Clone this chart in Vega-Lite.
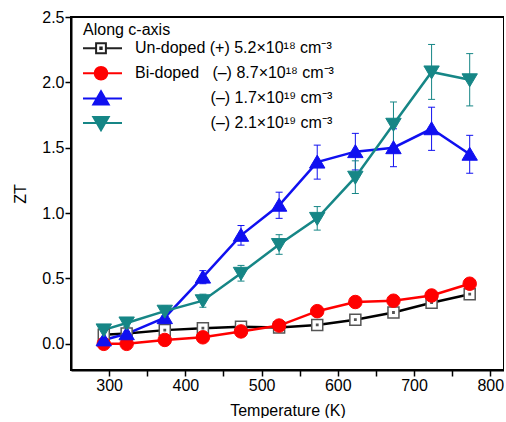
{
  "$schema": "https://vega.github.io/schema/vega-lite/v6.json",
  "width": 433,
  "height": 353,
  "padding": {"left": 12, "top": 9, "right": 0, "bottom": 0},
  "background": "white",
  "config": {
    "font": "Liberation Sans",
    "view": {"stroke": "#000", "strokeWidth": 2},
    "axis": {
      "domain": true, "domainColor": "#000", "domainWidth": 2,
      "ticks": true, "tickColor": "#000", "tickWidth": 1.5, "tickSize": 6,
      "labelFont": "Liberation Sans", "labelFontSize": 16, "labelColor": "#000",
      "titleFont": "Liberation Sans", "titleFontSize": 16, "titleFontWeight": "normal", "titleColor": "#000",
      "grid": false
    },
    "legend": {
      "padding": 0,
      "titleFont": "Liberation Sans", "titleFontSize": 16, "titleFontWeight": "normal", "titleColor": "#000",
      "labelFont": "Liberation Sans", "labelFontSize": 16, "labelColor": "#000",
      "symbolStrokeWidth": 2, "labelLimit": 400
    }
  },
  "datasets": {
    "d": [
      {"g": "U", "T": 293, "ZT": 0.07, "lo": 0.05, "hi": 0.09},
      {"g": "U", "T": 323, "ZT": 0.08, "lo": 0.06, "hi": 0.1},
      {"g": "U", "T": 373, "ZT": 0.105, "lo": 0.075, "hi": 0.135},
      {"g": "U", "T": 423, "ZT": 0.12, "lo": 0.09, "hi": 0.15},
      {"g": "U", "T": 473, "ZT": 0.13, "lo": 0.11, "hi": 0.15},
      {"g": "U", "T": 523, "ZT": 0.125, "lo": 0.105, "hi": 0.145},
      {"g": "U", "T": 573, "ZT": 0.145, "lo": 0.115, "hi": 0.175},
      {"g": "U", "T": 623, "ZT": 0.185, "lo": 0.155, "hi": 0.215},
      {"g": "U", "T": 673, "ZT": 0.24, "lo": 0.21, "hi": 0.27},
      {"g": "U", "T": 723, "ZT": 0.315, "lo": 0.295, "hi": 0.335},
      {"g": "U", "T": 773, "ZT": 0.38, "lo": 0.36, "hi": 0.4},
      {"g": "R", "T": 293, "ZT": 0.0, "lo": -0.02, "hi": 0.02},
      {"g": "R", "T": 323, "ZT": 0.0, "lo": -0.02, "hi": 0.02},
      {"g": "R", "T": 373, "ZT": 0.03, "lo": 0.01, "hi": 0.05},
      {"g": "R", "T": 423, "ZT": 0.05, "lo": 0.03, "hi": 0.07},
      {"g": "R", "T": 473, "ZT": 0.095, "lo": 0.075, "hi": 0.115},
      {"g": "R", "T": 523, "ZT": 0.14, "lo": 0.12, "hi": 0.16},
      {"g": "R", "T": 573, "ZT": 0.25, "lo": 0.23, "hi": 0.27},
      {"g": "R", "T": 623, "ZT": 0.32, "lo": 0.3, "hi": 0.34},
      {"g": "R", "T": 673, "ZT": 0.33, "lo": 0.31, "hi": 0.35},
      {"g": "R", "T": 723, "ZT": 0.37, "lo": 0.35, "hi": 0.39},
      {"g": "R", "T": 773, "ZT": 0.46, "lo": 0.44, "hi": 0.48},
      {"g": "B", "T": 293, "ZT": 0.03, "lo": 0.0, "hi": 0.06},
      {"g": "B", "T": 323, "ZT": 0.077, "lo": 0.04, "hi": 0.115},
      {"g": "B", "T": 373, "ZT": 0.2, "lo": 0.15, "hi": 0.25},
      {"g": "B", "T": 423, "ZT": 0.51, "lo": 0.46, "hi": 0.56},
      {"g": "B", "T": 473, "ZT": 0.83, "lo": 0.755, "hi": 0.905},
      {"g": "B", "T": 523, "ZT": 1.06, "lo": 0.96, "hi": 1.16},
      {"g": "B", "T": 573, "ZT": 1.39, "lo": 1.26, "hi": 1.52},
      {"g": "B", "T": 623, "ZT": 1.47, "lo": 1.33, "hi": 1.61},
      {"g": "B", "T": 673, "ZT": 1.5, "lo": 1.355, "hi": 1.645},
      {"g": "B", "T": 723, "ZT": 1.645, "lo": 1.48, "hi": 1.81},
      {"g": "B", "T": 773, "ZT": 1.45, "lo": 1.305, "hi": 1.595},
      {"g": "G", "T": 293, "ZT": 0.107, "lo": 0.077, "hi": 0.137},
      {"g": "G", "T": 323, "ZT": 0.16, "lo": 0.13, "hi": 0.19},
      {"g": "G", "T": 373, "ZT": 0.25, "lo": 0.21, "hi": 0.29},
      {"g": "G", "T": 423, "ZT": 0.33, "lo": 0.28, "hi": 0.38},
      {"g": "G", "T": 473, "ZT": 0.54, "lo": 0.48, "hi": 0.6},
      {"g": "G", "T": 523, "ZT": 0.76, "lo": 0.685, "hi": 0.835},
      {"g": "G", "T": 573, "ZT": 0.96, "lo": 0.87, "hi": 1.05},
      {"g": "G", "T": 623, "ZT": 1.275, "lo": 1.15, "hi": 1.4},
      {"g": "G", "T": 673, "ZT": 1.68, "lo": 1.51, "hi": 1.85},
      {"g": "G", "T": 723, "ZT": 2.08, "lo": 1.87, "hi": 2.29},
      {"g": "G", "T": 773, "ZT": 2.02, "lo": 1.82, "hi": 2.22}
    ]
  },
  "data": {"name": "d"},
  "encoding": {
    "x": {
      "field": "T", "type": "quantitative", "title": "Temperature (K)",
      "scale": {"domain": [250, 818], "nice": false, "zero": false},
      "axis": {
        "values": [300, 350, 400, 450, 500, 550, 600, 650, 700, 750, 800],
        "labelExpr": "datum.value % 100 === 0 ? datum.label : ''",
        "format": "d",
        "labelPadding": 1, "titlePadding": 9
      }
    }
  },
  "layer": [
    {
      "mark": {"type": "rule", "strokeWidth": 1},
      "encoding": {
        "y": {
          "field": "lo", "type": "quantitative", "title": "ZT",
          "scale": {"domain": [-0.2, 2.5], "nice": false, "zero": false},
          "axis": {
            "values": [0, 0.25, 0.5, 0.75, 1, 1.25, 1.5, 1.75, 2, 2.25, 2.5],
            "labelExpr": "(datum.value * 4) % 2 === 0 ? format(datum.value, '.1f') : ''",
            "labelPadding": 1, "titlePadding": 13
          }
        },
        "y2": {"field": "hi"},
        "color": {"field": "g", "type": "nominal", "legend": null,
          "scale": {"range": ["#1010f0", "#168686", "#ff0000", "#000000"]}}
      }
    },
    {
      "mark": {"type": "tick", "orient": "horizontal", "size": 7, "thickness": 1, "opacity": 1},
      "encoding": {
        "y": {"field": "hi", "type": "quantitative", "title": "ZT"},
        "color": {"field": "g", "type": "nominal", "legend": null}
      }
    },
    {
      "mark": {"type": "tick", "orient": "horizontal", "size": 7, "thickness": 1, "opacity": 1},
      "encoding": {
        "y": {"field": "lo", "type": "quantitative", "title": "ZT"},
        "color": {"field": "g", "type": "nominal", "legend": null}
      }
    },
    {
      "mark": {"type": "line", "strokeWidth": 2.5},
      "encoding": {
        "y": {"field": "ZT", "type": "quantitative", "title": "ZT"},
        "color": {"field": "g", "type": "nominal", "legend": null},
        "order": {"field": "T"}
      }
    },
    {
      "transform": [{"filter": "datum.T < 0"}],
      "mark": {"type": "point", "size": 196, "opacity": 1, "strokeWidth": 2},
      "encoding": {
        "y": {"field": "ZT", "type": "quantitative", "title": "ZT"},
        "shape": {
          "field": "g", "type": "nominal", "title": "Along c-axis",
          "scale": {"domain": ["U", "R", "B", "G"], "range": [
            "M-3,0H-0.7M0.7,0H3M-0.7,-0.7H0.7V0.7H-0.7ZM-0.1,-0.1H0.1V0.1H-0.1Z",
            "M-3,0H-0.9M0.9,0H3M0.9,0L0.831,0.344L0.636,0.636L0.344,0.831L0,0.9L-0.344,0.831L-0.636,0.636L-0.831,0.344L-0.9,0L-0.831,-0.344L-0.636,-0.636L-0.344,-0.831L0,-0.9L0.344,-0.831L0.636,-0.636L0.831,-0.344Z",
            "M-3,0.05H3M0,-1L1.1,0.9H-1.1Z",
            "M-3,-0.05H3M0,1L1.1,-0.9H-1.1Z"
          ]},
          "legend": {
            "orient": "none", "legendX": 12, "legendY": 5, "direction": "vertical",
            "symbolSize": 196, "symbolOffset": 10, "labelOffset": 26, "clipHeight": 24.5, "rowPadding": 0, "titlePadding": -2,
            "labelExpr": "datum.label === 'U' ? 'Un-doped (+) 5.2×10¹⁸ cm⁻³' : datum.label === 'R' ? 'Bi-doped\u00a0\u00a0\u00a0(–) 8.7×10¹⁸ cm⁻³' : datum.label === 'B' ? '\u200b\u00a0\u00a0\u00a0\u00a0\u00a0\u00a0\u00a0\u00a0\u00a0\u00a0\u00a0\u00a0\u00a0\u00a0\u00a0\u00a0\u00a0(–) 1.7×10¹⁹ cm⁻³' : '\u200b\u00a0\u00a0\u00a0\u00a0\u00a0\u00a0\u00a0\u00a0\u00a0\u00a0\u00a0\u00a0\u00a0\u00a0\u00a0\u00a0\u00a0(–) 2.1×10¹⁹ cm⁻³'"
          }
        },
        "fill": {
          "field": "g", "type": "nominal", "title": "Along c-axis",
          "scale": {"domain": ["U", "R", "B", "G"], "range": ["#ffffff", "#ff0000", "#1010f0", "#168686"]},
          "legend": {
            "orient": "none", "legendX": 12, "legendY": 5, "direction": "vertical",
            "symbolSize": 196, "symbolOffset": 10, "labelOffset": 26, "clipHeight": 24.5, "rowPadding": 0, "titlePadding": -2,
            "labelExpr": "datum.label === 'U' ? 'Un-doped (+) 5.2×10¹⁸ cm⁻³' : datum.label === 'R' ? 'Bi-doped\u00a0\u00a0\u00a0(–) 8.7×10¹⁸ cm⁻³' : datum.label === 'B' ? '\u200b\u00a0\u00a0\u00a0\u00a0\u00a0\u00a0\u00a0\u00a0\u00a0\u00a0\u00a0\u00a0\u00a0\u00a0\u00a0\u00a0\u00a0(–) 1.7×10¹⁹ cm⁻³' : '\u200b\u00a0\u00a0\u00a0\u00a0\u00a0\u00a0\u00a0\u00a0\u00a0\u00a0\u00a0\u00a0\u00a0\u00a0\u00a0\u00a0\u00a0(–) 2.1×10¹⁹ cm⁻³'"
          }
        },
        "stroke": {
          "field": "g", "type": "nominal", "title": "Along c-axis",
          "scale": {"domain": ["U", "R", "B", "G"], "range": ["#222222", "#ff0000", "#1010f0", "#168686"]},
          "legend": {
            "orient": "none", "legendX": 12, "legendY": 5, "direction": "vertical",
            "symbolSize": 196, "symbolOffset": 10, "labelOffset": 26, "clipHeight": 24.5, "rowPadding": 0, "titlePadding": -2,
            "labelExpr": "datum.label === 'U' ? 'Un-doped (+) 5.2×10¹⁸ cm⁻³' : datum.label === 'R' ? 'Bi-doped\u00a0\u00a0\u00a0(–) 8.7×10¹⁸ cm⁻³' : datum.label === 'B' ? '\u200b\u00a0\u00a0\u00a0\u00a0\u00a0\u00a0\u00a0\u00a0\u00a0\u00a0\u00a0\u00a0\u00a0\u00a0\u00a0\u00a0\u00a0(–) 1.7×10¹⁹ cm⁻³' : '\u200b\u00a0\u00a0\u00a0\u00a0\u00a0\u00a0\u00a0\u00a0\u00a0\u00a0\u00a0\u00a0\u00a0\u00a0\u00a0\u00a0\u00a0(–) 2.1×10¹⁹ cm⁻³'"
          }
        }
      }
    },
    {
      "transform": [{"filter": "datum.g === 'U'"}],
      "mark": {"type": "point", "shape": "M-1,-1H1V1H-1ZM-0.12,-0.12H0.12V0.12H-0.12Z", "size": 121, "fill": "#ffffff", "stroke": "#555555", "strokeWidth": 1.5, "opacity": 1, "fillOpacity": 1},
      "encoding": {"y": {"field": "ZT", "type": "quantitative", "title": "ZT"}}
    },
    {
      "transform": [{"filter": "datum.g === 'R'"}],
      "mark": {"type": "point", "shape": "circle", "size": 182, "fill": "#ff0000", "stroke": "#ff0000", "strokeWidth": 1, "opacity": 1, "fillOpacity": 1},
      "encoding": {"y": {"field": "ZT", "type": "quantitative", "title": "ZT"}}
    },
    {
      "transform": [{"filter": "datum.g === 'B'"}],
      "mark": {"type": "point", "shape": "M0,-1L1.1,0.85L-1.1,0.85Z", "size": 196, "fill": "#1010f0", "stroke": "#1010f0", "strokeWidth": 1, "opacity": 1, "fillOpacity": 1},
      "encoding": {"y": {"field": "ZT", "type": "quantitative", "title": "ZT"}}
    },
    {
      "transform": [{"filter": "datum.g === 'G'"}],
      "mark": {"type": "point", "shape": "M0,1L1.1,-0.85L-1.1,-0.85Z", "size": 196, "fill": "#168686", "stroke": "#168686", "strokeWidth": 1, "opacity": 1, "fillOpacity": 1},
      "encoding": {"y": {"field": "ZT", "type": "quantitative", "title": "ZT"}}
    }
  ]
}
